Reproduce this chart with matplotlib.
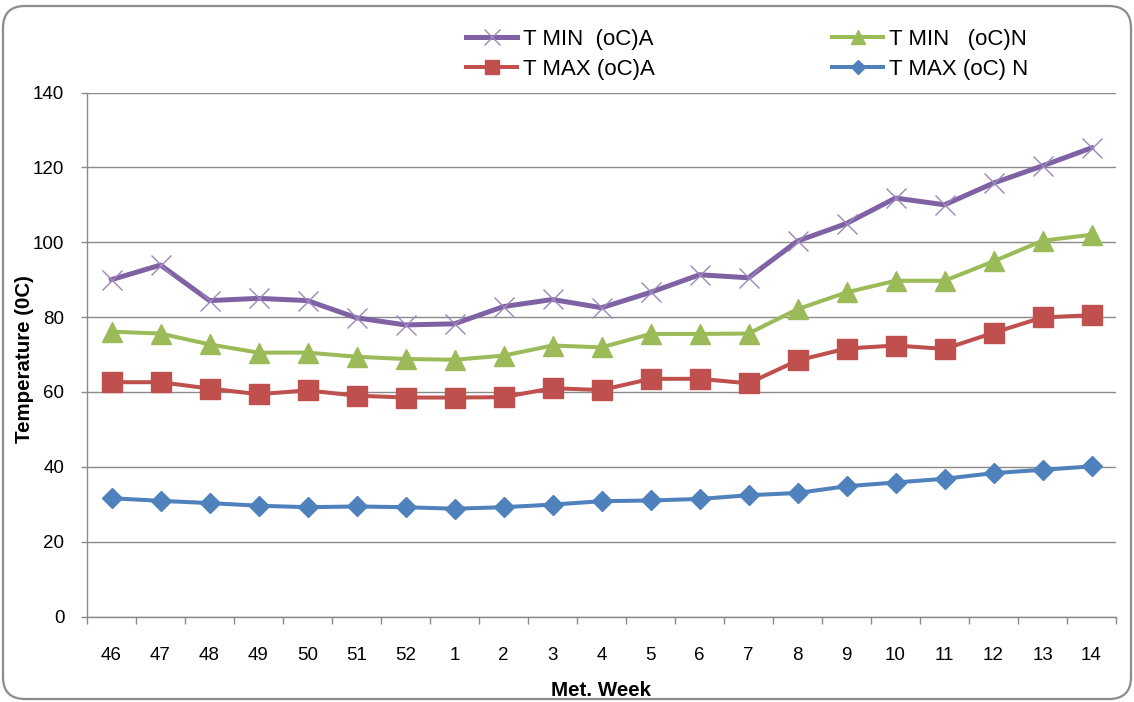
import matplotlib
matplotlib.use("Agg")
import matplotlib.pyplot as plt
from matplotlib.patches import FancyBboxPatch
from matplotlib.transforms import IdentityTransform
from matplotlib.ticker import FixedLocator, MultipleLocator

plt.rcParams['font.family'] = ['Liberation Sans', 'DejaVu Sans']

weeks = ["46", "47", "48", "49", "50", "51", "52", "1", "2", "3", "4",
         "5", "6", "7", "8", "9", "10", "11", "12", "13", "14"]

tmin_a = [90.0, 93.9, 84.4, 85.0, 84.4, 79.8, 77.9, 78.2, 82.8, 84.7, 82.5,
          86.6, 91.3, 90.5, 100.3, 105.0, 111.8, 110.0, 115.8, 120.4, 125.2]
tmin_n = [76.1, 75.6, 72.7, 70.5, 70.5, 69.4, 68.8, 68.6, 69.7, 72.4, 71.9,
          75.5, 75.5, 75.6, 82.1, 86.6, 89.7, 89.7, 94.9, 100.4, 102.0]
tmax_a = [62.6, 62.6, 60.9, 59.4, 60.4, 59.0, 58.5, 58.5, 58.6, 61.0, 60.5,
          63.5, 63.5, 62.3, 68.4, 71.6, 72.4, 71.5, 75.8, 79.9, 80.5]
tmax_n = [31.6, 30.9, 30.3, 29.6, 29.2, 29.4, 29.2, 28.8, 29.2, 29.9, 30.8,
          31.0, 31.4, 32.4, 33.0, 34.8, 35.8, 36.8, 38.3, 39.2, 40.1]

label_tmin_a = "T MIN  (oC)A"
label_tmin_n = "T MIN   (oC)N"
label_tmax_a = "T MAX (oC)A"
label_tmax_n = "T MAX (oC) N"

purple = "#7F62A3"
green = "#9BBB59"
red = "#C0504D"
blue = "#4F81BD"
grid_gray = "#8A8A8A"

W, H = 1134, 702
fig = plt.figure(figsize=(W / 100, H / 100), dpi=100)
fig.patch.set_facecolor("white")

# rounded outer frame
frame = FancyBboxPatch((3, 3), 1128, 693,
                       boxstyle="round,pad=0,rounding_size=22",
                       transform=IdentityTransform(), facecolor="none",
                       edgecolor="#8C8C8C", linewidth=1.6, zorder=0)
fig.patches.append(frame)

left, right = 87 / W, 1116 / W
bottom, top = 1 - 616.5 / H, 1 - 92.5 / H
ax = fig.add_axes([left, bottom, right - left, top - bottom])

x = list(range(len(weeks)))

l_tmax_n, = ax.plot(x, tmax_n, color=blue, lw=2.9, marker="D", ms=10,
                    mfc=blue, mec=blue, zorder=3)
l_tmax_a, = ax.plot(x, tmax_a, color=red, lw=2.9, marker="s", ms=14,
                    mfc=red, mec=red, zorder=3)
l_tmin_n, = ax.plot(x, tmin_n, color=green, lw=2.9, marker="^", ms=14,
                    mfc=green, mec=green, zorder=3)
l_tmin_a, = ax.plot(x, tmin_a, color=purple, lw=3.6, marker="x", ms=15,
                    mec="#9C88BE", mew=1.0, zorder=3)

ax.set_xlim(-0.5, len(weeks) - 0.5)
ax.set_ylim(0, 140)
ax.yaxis.set_major_locator(MultipleLocator(20))
ax.set_xticks(x)
ax.set_xticklabels(weeks)
ax.xaxis.set_minor_locator(FixedLocator([i - 0.5 for i in range(len(weeks) + 1)]))

ax.grid(axis="y", color=grid_gray, lw=1.0, zorder=1)
ax.set_axisbelow(True)
for s in ("top", "right"):
    ax.spines[s].set_visible(False)
for s in ("left", "bottom"):
    ax.spines[s].set_color(grid_gray)
    ax.spines[s].set_linewidth(1.0)

ax.tick_params(axis="y", which="major", length=4.3, width=1.0, color=grid_gray,
               pad=12, labelsize=13.5, labelcolor="#000000")
ax.tick_params(axis="x", which="major", length=0, pad=22, labelsize=13.5,
               labelcolor="#000000")
ax.tick_params(axis="x", which="minor", length=5, width=1.0, color=grid_gray)

fig.text(600.7 / W, 1 - 690 / H, "Met. Week", ha="center", va="center",
         fontsize=14.8, fontweight="bold")
fig.text(25 / W, 1 - 359 / H, "Temperature (0C)", ha="center", va="center",
         rotation=90, fontsize=14.8, fontweight="bold")

handles = [l_tmin_a, l_tmax_a, l_tmin_n, l_tmax_n]
labels = [label_tmin_a, label_tmax_a, label_tmin_n, label_tmax_n]
fig.legend(handles, labels, ncol=2, loc="upper left",
           bbox_to_anchor=(466 / W, 1 - 29 / H), frameon=False,
           fontsize=16, handlelength=2.3, handletextpad=0.25,
           columnspacing=8.0, labelspacing=0.39, borderpad=0,
           borderaxespad=0, markerscale=0.75)

fig.savefig("out.png", dpi=100, facecolor="white")
